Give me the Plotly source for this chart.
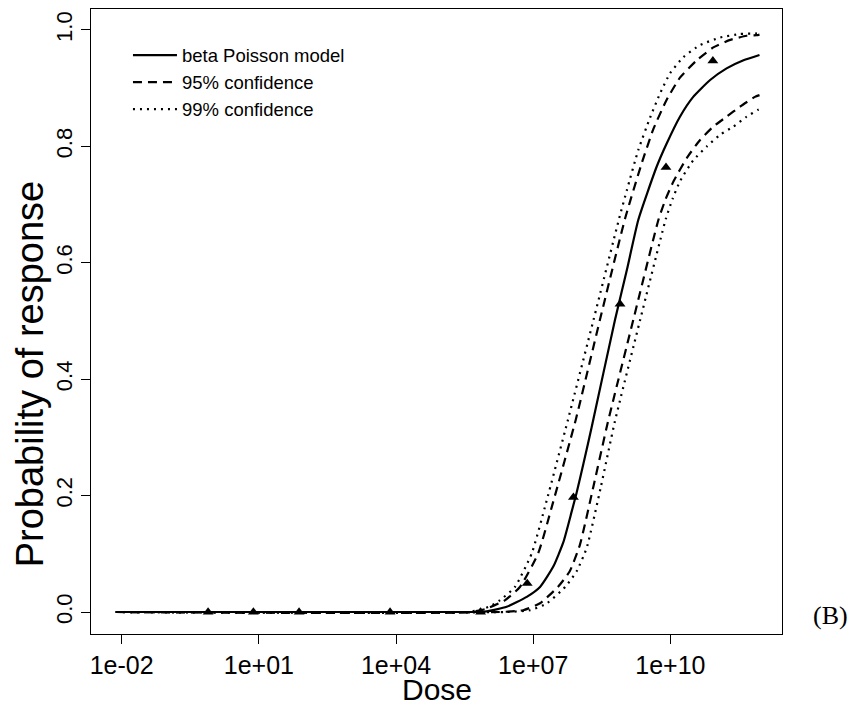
import plotly.graph_objects as go

# ---- data (log10 dose, probability) ----
obs_logdose = [-0.11, 0.88, 1.88, 3.87, 5.85, 6.87, 7.88, 8.90, 9.905, 10.93]
obs_prob = [0.0, 0.0, 0.0, 0.0, 0.0, 0.049, 0.197, 0.529, 0.764, 0.947]

model_logdose = [-2.13, 5.62, 5.98, 6.42, 6.86, 7.15, 7.44, 7.66, 7.84, 7.95, 8.10, 8.28,
                 8.79, 9.05, 9.30, 9.70, 9.92, 10.21, 10.50, 10.87, 11.23, 11.60, 11.95]
model_prob = [0.0, 0.0, 0.001, 0.009, 0.026, 0.043, 0.078, 0.12, 0.172, 0.205, 0.255, 0.318,
              0.502, 0.588, 0.674, 0.765, 0.805, 0.851, 0.885, 0.914, 0.934, 0.948, 0.957]

up95_logdose = [-2.13, 5.62, 5.95, 6.38, 6.71, 7.11, 7.43, 7.93, 8.46, 9.01, 9.37, 9.63,
                9.92, 10.21, 10.58, 10.94, 11.31, 11.67, 11.89, 11.95]
up95_prob = [0.0, 0.0, 0.005, 0.02, 0.043, 0.101, 0.187, 0.33, 0.502, 0.676, 0.77, 0.83,
             0.880, 0.918, 0.948, 0.970, 0.983, 0.990, 0.991, 0.992]

lo95_logdose = [-2.13, 6.27, 6.78, 7.15, 7.54, 7.80, 8.02, 8.33, 8.63, 9.19, 9.74, 9.90,
                10.07, 10.36, 10.65, 10.94, 11.23, 11.52, 11.85, 11.95]
lo95_prob = [0.0, 0.0, 0.003, 0.015, 0.043, 0.07, 0.115, 0.22, 0.325, 0.502, 0.674, 0.71,
             0.74, 0.78, 0.811, 0.834, 0.851, 0.868, 0.885, 0.888]

up99_logdose = [-2.13, 5.57, 5.84, 6.06, 6.27, 6.60, 6.97, 7.28, 7.76, 8.32, 8.88, 9.05,
                9.30, 9.56, 9.77, 9.99, 10.28, 10.65, 11.09, 11.52, 11.89, 11.95]
up99_prob = [0.0, 0.0, 0.004, 0.01, 0.02, 0.043, 0.101, 0.187, 0.33, 0.502, 0.676, 0.725,
             0.794, 0.85, 0.89, 0.925, 0.953, 0.974, 0.987, 0.993, 0.994, 0.995]

lo99_logdose = [-2.13, 6.38, 6.93, 7.30, 7.70, 7.95, 8.17, 8.48, 8.78, 9.34, 9.90, 10.05,
                10.21, 10.50, 10.80, 11.09, 11.38, 11.67, 11.92, 11.95]
lo99_prob = [0.0, 0.0, 0.003, 0.015, 0.043, 0.07, 0.11, 0.215, 0.325, 0.502, 0.675, 0.71,
             0.74, 0.776, 0.800, 0.820, 0.834, 0.851, 0.863, 0.864]

x_tick_vals = [1e-2, 1e1, 1e4, 1e7, 1e10]
x_tick_text = ["1e-02", "1e+01", "1e+04", "1e+07", "1e+10"]
y_tick_vals = [0.0, 0.2, 0.4, 0.6, 0.8, 1.0]
y_tick_text = ["0.0", "0.2", "0.4", "0.6", "0.8", "1.0"]


def to_dose(logs):
    return [10 ** v for v in logs]


FONT = "Liberation Sans, Arial, Helvetica, sans-serif"
LW = 2.2

fig = go.Figure()
fig.add_trace(go.Scatter(x=to_dose(model_logdose), y=model_prob, mode="lines",
                         line=dict(color="black", width=LW, shape="spline", smoothing=0.5),
                         name="beta Poisson model"))
fig.add_trace(go.Scatter(x=to_dose(up95_logdose), y=up95_prob, mode="lines",
                         line=dict(color="black", width=LW, dash="9px,6px", shape="spline", smoothing=0.5),
                         name="95% confidence"))
fig.add_trace(go.Scatter(x=to_dose(up99_logdose), y=up99_prob, mode="lines",
                         line=dict(color="black", width=LW, dash="2px,5px", shape="spline", smoothing=0.5),
                         name="99% confidence"))
fig.add_trace(go.Scatter(x=to_dose(lo95_logdose), y=lo95_prob, mode="lines",
                         line=dict(color="black", width=LW, dash="9px,6px", shape="spline", smoothing=0.5),
                         name="95% confidence", showlegend=False))
fig.add_trace(go.Scatter(x=to_dose(lo99_logdose), y=lo99_prob, mode="lines",
                         line=dict(color="black", width=LW, dash="2px,5px", shape="spline", smoothing=0.5),
                         name="99% confidence", showlegend=False))
fig.add_trace(go.Scatter(x=to_dose(obs_logdose), y=obs_prob, mode="markers",
                         marker=dict(symbol="triangle-up", size=9.5, color="black"),
                         name="observed", showlegend=False))

fig.update_layout(
    width=848, height=702,
    margin=dict(l=83, r=74, t=1, b=76),
    paper_bgcolor="white", plot_bgcolor="white",
    font=dict(family=FONT, color="black"),
    showlegend=True,
    legend=dict(x=0.0535, y=0.956, xanchor="left", yanchor="top",
                bgcolor="rgba(0,0,0,0)", borderwidth=0,
                font=dict(size=18.5, family=FONT), itemwidth=44, tracegroupgap=0),
    xaxis=dict(type="log", range=[-2.671, 12.442],
               tickvals=x_tick_vals, ticktext=x_tick_text,
               ticks="outside", ticklen=9, tickwidth=1, tickcolor="black",
               tickfont=dict(size=25, family=FONT),
               showline=True, linecolor="black", linewidth=1, mirror=True,
               showgrid=False, zeroline=False),
    yaxis=dict(range=[-0.0378, 1.036],
               tickvals=y_tick_vals, ticktext=y_tick_text, tickangle=-90,
               ticks="outside", ticklen=9, tickwidth=1, tickcolor="black",
               tickfont=dict(size=22, family=FONT),
               showline=True, linecolor="black", linewidth=1, mirror=True,
               showgrid=False, zeroline=False),
    annotations=[
        dict(text="Dose", xref="paper", yref="paper", x=0.5, y=-0.0896,
             xanchor="center", yanchor="middle", showarrow=False,
             font=dict(size=30, family=FONT)),
        dict(text="Probability of response", xref="paper", yref="y", x=-0.0883, y=0.41,
             xanchor="center", yanchor="middle", textangle=-90, showarrow=False,
             font=dict(size=38, family=FONT)),
        dict(text="(B)", xref="paper", yref="paper", x=1.042, y=0.0304,
             xanchor="left", yanchor="middle", showarrow=False,
             font=dict(size=26, family="Liberation Serif, DejaVu Serif, serif")),
    ],
)

fig.write_html("out.html")
